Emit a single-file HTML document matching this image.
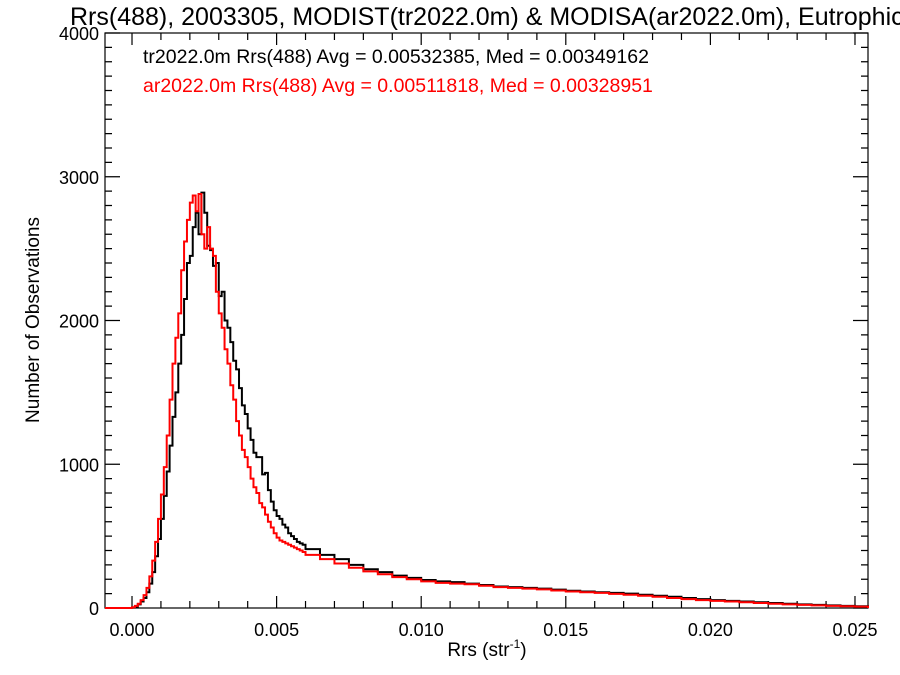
<!DOCTYPE html>
<html><head><meta charset="utf-8"><style>
body{margin:0;background:#fff}
svg{display:block;font-family:"Liberation Sans",sans-serif}
</style></head><body>
<svg id="chart" width="900" height="675" viewBox="0 0 900 675">
<g id="axes"></g>
<g id="series"></g>
<text x="70" y="25" font-size="25">Rrs(488), 2003305, MODIST(tr2022.0m) &amp; MODISA(ar2022.0m), Eutrophic</text>
<text x="143" y="63" font-size="19.5">tr2022.0m Rrs(488) Avg = 0.00532385, Med = 0.00349162</text>
<text x="143" y="92" font-size="19.5" fill="#ff0000">ar2022.0m Rrs(488) Avg = 0.00511818, Med = 0.00328951</text>
<text x="487" y="656" font-size="19" text-anchor="middle">Rrs (str<tspan font-size="12" dy="-8">-1</tspan><tspan dy="8">)</tspan></text>
<text transform="translate(39,320) rotate(-90)" font-size="19" text-anchor="middle">Number of Observations</text>
</svg>
<script>
const xTicks=[0,0.005,0.010,0.015,0.020,0.025];
const xTickLabels=["0.000","0.005","0.010","0.015","0.020","0.025"];
const yTicks=[0,1000,2000,3000,4000];
const yTickLabels=["0","1000","2000","3000","4000"];
// bin edges (Rrs units) and counts
const binEdges=[0,0.0001,0.0002,0.0003,0.0004,0.0005,0.0006,0.0007,0.0008,0.0009,0.0010,0.0011,0.0012,0.0013,0.0014,0.0015,0.0016,0.0017,0.0018,0.0019,0.0020,0.0021,0.0022,0.0023,0.0024,0.0025,0.0026,0.0027,0.0028,0.0029,0.0030,0.0031,0.0032,0.0033,0.0034,0.0035,0.0036,0.0037,0.0038,0.0039,0.0040,0.0041,0.0042,0.0043,0.0044,0.0045,0.0046,0.0047,0.0048,0.0049,0.0050,0.0051,0.0052,0.0053,0.0054,0.0055,0.0056,0.0057,0.0058,0.0059,0.0060,0.0065,0.0070,0.0075,0.0080,0.0085,0.0090,0.0095,0.0100,0.0105,0.0110,0.0115,0.0120,0.0125,0.0130,0.0135,0.0140,0.0145,0.0150,0.0155,0.0160,0.0165,0.0170,0.0175,0.0180,0.0185,0.0190,0.0195,0.0200,0.0205,0.0210,0.0215,0.0220,0.0225,0.0230,0.0235,0.0240,0.0245,0.0250,0.02545];
const trCounts=[3,10,25,45,70,110,170,250,360,480,620,780,950,1130,1330,1500,1700,1900,2150,2400,2450,2650,2750,2600,2890,2750,2520,2490,2380,2400,2170,2200,2000,1950,1850,1720,1660,1530,1410,1350,1250,1170,1080,1050,1050,930,940,820,740,680,640,620,580,560,520,500,480,460,450,440,410,370,340,300,270,250,225,210,195,185,180,170,160,150,145,140,135,128,120,115,110,105,100,92,85,78,70,62,55,50,45,40,35,30,25,22,18,15,12];
const arCounts=[5,15,30,55,90,140,220,330,460,620,790,980,1200,1450,1700,1880,2050,2350,2550,2700,2820,2870,2760,2880,2600,2500,2650,2500,2450,2200,2050,1950,1800,1700,1550,1450,1300,1200,1100,1050,980,900,840,800,730,700,650,600,560,520,490,470,460,450,440,430,420,410,400,390,370,340,310,280,255,235,215,200,185,175,170,165,155,145,140,135,130,122,115,110,105,98,92,85,78,70,62,55,50,45,40,35,30,25,22,18,15,12,10];
const X0=105,X1=868,Y0=608,Y1=33,xmin=-0.000934,xmax=0.02545,ymin=0,ymax=4000;
const sx=v=>X0+(v-xmin)/(xmax-xmin)*(X1-X0);
const sy=v=>Y0-(v-ymin)/(ymax-ymin)*(Y0-Y1);
const NS="http://www.w3.org/2000/svg";
const axes=document.getElementById('axes'),series=document.getElementById('series');
function mk(tag,attrs,parent){const e=document.createElementNS(NS,tag);for(const k in attrs)e.setAttribute(k,attrs[k]);parent.appendChild(e);return e;}
const frame=mk('rect',{x:X0,y:Y1,width:X1-X0,height:Y0-Y1,fill:'none',stroke:'#000','stroke-width':1.2},axes);


let p='';
for(let i=0;i<=0.0255;i+=0.001){const v=Math.round(i*1e4)/1e4;const x=sx(v);const maj=Math.abs(v*200-Math.round(v*200))<1e-6;const L=maj?12:7;p+=`M${x},${Y0}v${-L}M${x},${Y1}v${L}`;}
for(let v=0;v<=4000;v+=100){const y=sy(v);const L=v%1000===0?15:7;p+=`M${X0},${y}h${L}M${X1},${y}h${-L}`;}
const tk=mk('path',{d:p,stroke:'#000','stroke-width':1.2,fill:'none'},axes);


xTicks.forEach((v,i)=>{const t=mk('text',{x:sx(v),y:Y0+28,'font-size':18,'text-anchor':'middle'},axes);t.textContent=xTickLabels[i];

});
yTicks.forEach((v,i)=>{const t=mk('text',{x:X0-6,y:sy(v)+7,'font-size':18,'text-anchor':'end'},axes);t.textContent=yTickLabels[i];

});
function step(counts){let d=`M${X0},${sy(0)}H${sx(binEdges[0])}`;for(let i=0;i<counts.length;i++){d+=`V${sy(counts[i])}H${sx(binEdges[i+1])}`;}d+=`V${sy(0)}`;return d;}
const l1=mk('path',{d:step(trCounts),fill:'none',stroke:'#000','stroke-width':2},series);


const l2=mk('path',{d:step(arCounts),fill:'none',stroke:'#ff0000','stroke-width':2},series);


</script>
</body></html>
